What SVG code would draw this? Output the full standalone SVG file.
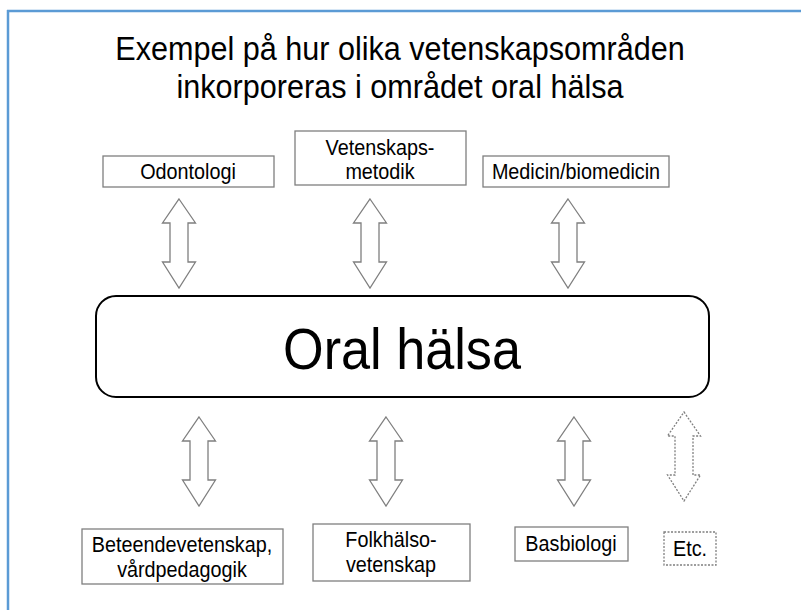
<svg xmlns="http://www.w3.org/2000/svg" xmlns:xlink="http://www.w3.org/1999/xlink" width="801" height="610" viewBox="0 0 801 610">
<style>
text{font-family:"Liberation Sans",Arial,sans-serif;fill:#000;text-anchor:middle;transform-box:fill-box;transform-origin:center;transform:scaleX(0.9)}
.title{font-size:34px}
.lbl{font-size:22px}
.big{font-size:58px}
.box{fill:#fff;stroke:#7f7f7f;stroke-width:1.3}
.dash{stroke-dasharray:2 1.5}
.arr{fill:#fff;stroke:#7f7f7f;stroke-width:1.3;stroke-linejoin:miter}
</style>
<defs>
<polygon id="dbl" points="0,0 16.5,24 9,24 9,63 16.5,63 0,89 -16.5,63 -9,63 -9,24 -16.5,24"/>
</defs>
<rect width="801" height="610" fill="#fff"/>
<g id="frame" fill="none" stroke="#5b9bd5" stroke-width="2.5">
<line x1="7" y1="11" x2="801" y2="11"/>
<line x1="8" y1="10" x2="8" y2="610"/>
</g>
<g id="title">
<text class="title" x="400" y="60">Exempel på hur olika vetenskapsområden</text>
<text class="title" x="400" y="98">inkorporeras i området oral hälsa</text>
</g>
<g id="connectors">
<use xlink:href="#dbl" class="arr" transform="translate(179,199)"/>
<use xlink:href="#dbl" class="arr" transform="translate(370,199)"/>
<use xlink:href="#dbl" class="arr" transform="translate(568,199)"/>
<use xlink:href="#dbl" class="arr" transform="translate(199,417)"/>
<use xlink:href="#dbl" class="arr" transform="translate(386,417)"/>
<use xlink:href="#dbl" class="arr" transform="translate(574,417)"/>
<use xlink:href="#dbl" class="arr dash" transform="translate(684,412)"/>
</g>
<g id="oral">
<rect x="96" y="296" width="613" height="101" rx="20" fill="#fff" stroke="#000" stroke-width="2"/>
<text class="big" x="402" y="369">Oral hälsa</text>
</g>
<g id="odontologi">
<rect class="box" x="103" y="156" width="171" height="31"/>
<text class="lbl" x="188" y="179">Odontologi</text>
</g>
<g id="vetenskapsmetodik">
<rect class="box" x="295" y="131" width="171" height="54"/>
<text class="lbl" x="380" y="155">Vetenskaps-</text>
<text class="lbl" x="380" y="179">metodik</text>
</g>
<g id="medicin">
<rect class="box" x="483" y="156" width="186" height="31"/>
<text class="lbl" x="576" y="179">Medicin/biomedicin</text>
</g>
<g id="beteende">
<rect class="box" x="82" y="529" width="201" height="55"/>
<text class="lbl" x="182" y="552">Beteendevetenskap,</text>
<text class="lbl" x="182" y="577">vårdpedagogik</text>
</g>
<g id="folkhalso">
<rect class="box" x="313" y="524" width="157" height="57"/>
<text class="lbl" x="391" y="547">Folkhälso-</text>
<text class="lbl" x="391" y="572">vetenskap</text>
</g>
<g id="basbiologi">
<rect class="box" x="515" y="527" width="113" height="34"/>
<text class="lbl" x="571" y="551">Basbiologi</text>
</g>
<g id="etc">
<rect class="box dash" x="664" y="532" width="52" height="33"/>
<text class="lbl" x="690" y="556">Etc.</text>
</g>
</svg>
